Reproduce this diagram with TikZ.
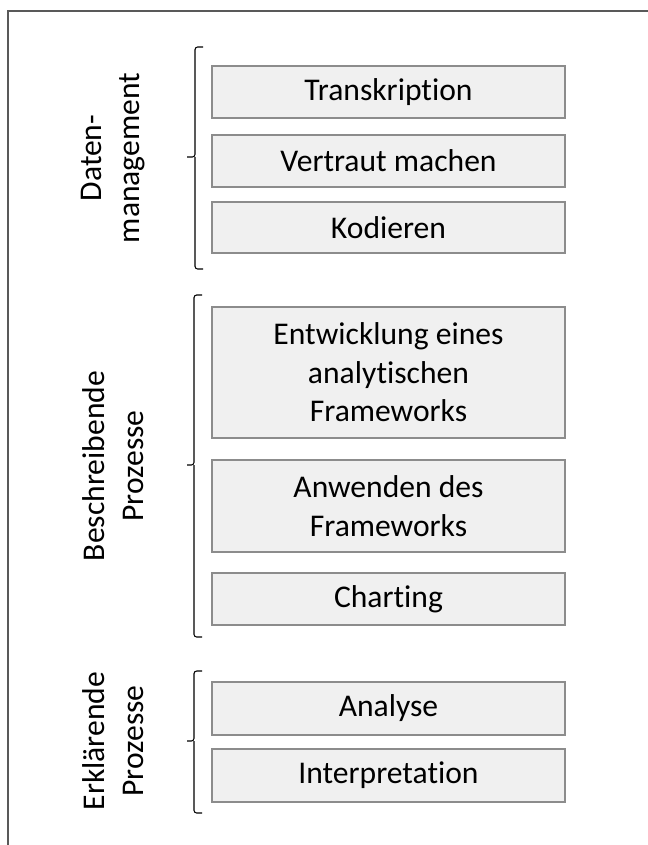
\documentclass[tikz,border=0pt]{standalone}
\usepackage{fontspec}
\setmainfont[RawFeature={-liga;-clig;-dlig}]{Carlito}
\begin{document}
\begin{tikzpicture}[x=0.75pt,y=-0.75pt,
  stepbox/.style={draw=boxborder,fill=boxfill,line width=1.1pt,minimum width=264.75pt,inner sep=0pt,align=center,font=\fontsize{23.7}{28.9}\selectfont,text=black},
  grouplabel/.style={rotate=90,align=center,inner sep=0pt,font=\fontsize{23.7}{28.9}\selectfont},
  bracketline/.style={draw=black,line width=0.8pt,rounded corners=2pt},
  frameline/.style={draw=framecol,line width=1.1pt}]
\definecolor{boxborder}{RGB}{140,140,140}
\definecolor{boxfill}{RGB}{240,240,240}
\definecolor{framecol}{RGB}{89,89,89}
\useasboundingbox (0,0) rectangle (648,845);
% frame
\coordinate (fbl) at (8,845);
\coordinate (ftl) at (8,11);
\coordinate (ftr) at (648,11);
\draw[frameline] (fbl) -- (ftl) -- (ftr);
% group 1
\node[stepbox,minimum height=39pt] (b1) at (388.5,92) {Transkription};
\node[stepbox,minimum height=39pt] (b2) at (388.5,161) {Vertraut machen};
\node[stepbox,minimum height=38.25pt] (b3) at (388.5,227.5) {Kodieren};
\node[grouplabel] (g1) at (113,158) {Daten-\\management};
\coordinate (t1) at (203,47);
\coordinate (m1) at (187,157);
\coordinate (e1) at (203,269);
\draw[bracketline] (t1) -- (195,47) -- (195,157) -- (m1);
\draw[bracketline] (195,157) -- (195,269) -- (e1);
% group 2
\node[stepbox,minimum height=98.25pt] (b4) at (388.5,372.5) {Entwicklung eines\\analytischen\\Frameworks};
\node[stepbox,minimum height=69pt] (b5) at (388.5,506) {Anwenden des\\Frameworks};
\node[stepbox,minimum height=39pt] (b6) at (388.5,599) {Charting};
\node[grouplabel] (g2) at (113,466) {Beschreibende\\Prozesse};
\coordinate (t2) at (202,295);
\coordinate (m2) at (187,465);
\coordinate (e2) at (202,637);
\draw[bracketline] (t2) -- (194,295) -- (194,465) -- (m2);
\draw[bracketline] (194,465) -- (194,637) -- (e2);
% group 3
\node[stepbox,minimum height=39.75pt] (b7) at (388.5,708.5) {Analyse};
\node[stepbox,minimum height=39.75pt] (b8) at (388.5,775.5) {Interpretation};
\node[grouplabel] (g3) at (113,741) {Erklärende\\Prozesse};
\coordinate (t3) at (202,671);
\coordinate (m3) at (187,741);
\coordinate (e3) at (202,813);
\draw[bracketline] (t3) -- (194,671) -- (194,741) -- (m3);
\draw[bracketline] (194,741) -- (194,813) -- (e3);
\end{tikzpicture}
\end{document}
